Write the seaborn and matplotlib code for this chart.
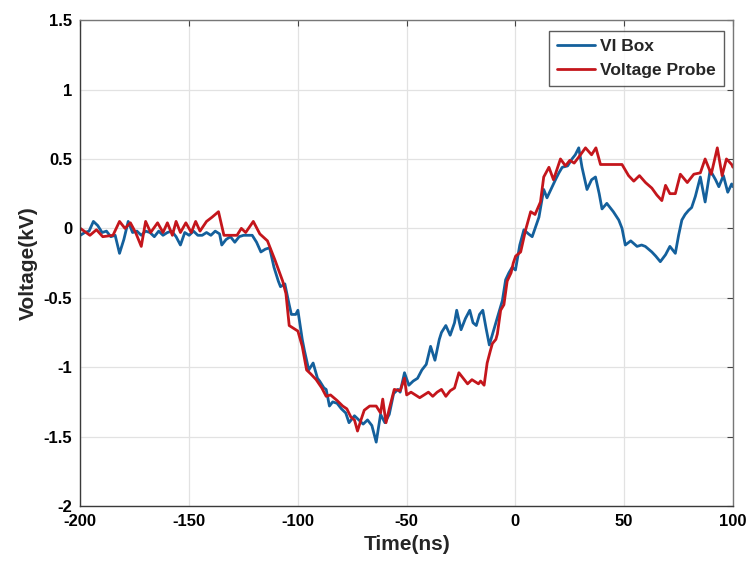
import matplotlib
matplotlib.use("Agg")
import matplotlib.pyplot as plt
import seaborn as sns
import pandas as pd

# VI Box measurement (time in ns, voltage in kV)
vi_t = [-200, -198, -196, -194, -192, -190, -188, -186, -184, -182, -180, -178, -176, -174,
        -172, -170, -168, -166, -164, -162, -160, -158, -156, -154, -152, -150, -148, -146,
        -144, -142, -140, -138, -136, -135, -133, -131, -129, -127, -125, -123, -121, -119,
        -117, -115, -113, -111, -109, -108, -106, -104, -103, -101, -100, -98, -97, -95, -93,
        -91, -90, -88, -87, -85.5, -84, -82, -80, -78, -76.5, -75, -74, -72, -70, -68, -66,
        -64, -62, -60, -58, -56, -54, -53, -51, -49, -47, -45, -43, -41, -39, -37, -35, -34,
        -32, -30, -28, -27, -25, -23, -21, -19.5, -18, -16.5, -15, -13.5, -12, -10.5, -9,
        -7.5, -6, -4.5, -3, -1.5, 0, 2, 3.9, 6, 7.7, 9.5, 10.8, 13, 14.5, 16, 18.4, 20, 21.5,
        24, 26, 27.5, 29.1, 30.6, 32.9, 35, 36.8, 38.5, 39.8, 42, 45, 47.5, 49, 50.5, 53,
        55.9, 58, 59.7, 62.7, 64.5, 66.6, 69, 71, 73.5, 75, 76.5, 78, 79.6, 81, 82.7, 85,
        87.2, 89.5, 92, 93.5, 95.6, 97.6, 99.4, 100]
vi_v = [-0.05, -0.03, -0.02, 0.05, 0.02, -0.03, -0.02, -0.06, -0.05, -0.18, -0.08, 0.05, -0.03,
        -0.02, -0.05, -0.02, -0.03, -0.06, -0.02, -0.05, -0.03, -0.02, -0.06, -0.12, -0.03,
        -0.05, -0.02, -0.05, -0.05, -0.03, -0.05, -0.02, -0.04, -0.12, -0.08, -0.06, -0.10,
        -0.06, -0.05, -0.05, -0.05, -0.10, -0.17, -0.15, -0.14, -0.28, -0.38, -0.42, -0.40,
        -0.55, -0.62, -0.62, -0.59, -0.80, -0.88, -1.02, -0.97, -1.08, -1.10, -1.15, -1.16,
        -1.28, -1.25, -1.26, -1.30, -1.33, -1.40, -1.37, -1.35, -1.38, -1.41, -1.38, -1.42,
        -1.54, -1.34, -1.40, -1.34, -1.19, -1.16, -1.18, -1.04, -1.13, -1.10, -1.08, -1.02,
        -0.98, -0.85, -0.95, -0.80, -0.75, -0.70, -0.77, -0.68, -0.59, -0.73, -0.65, -0.59,
        -0.68, -0.70, -0.62, -0.59, -0.72, -0.84, -0.76, -0.68, -0.60, -0.52, -0.37, -0.32,
        -0.28, -0.30, -0.12, -0.01, -0.04, -0.06, 0.02, 0.08, 0.28, 0.22, 0.27, 0.35, 0.40,
        0.44, 0.45, 0.50, 0.53, 0.58, 0.44, 0.28, 0.35, 0.37, 0.25, 0.14, 0.18, 0.12, 0.06,
        0.00, -0.12, -0.09, -0.13, -0.12, -0.13, -0.17, -0.20, -0.24, -0.19, -0.13, -0.18,
        -0.05, 0.06, 0.10, 0.13, 0.15, 0.23, 0.37, 0.19, 0.42, 0.35, 0.30, 0.38, 0.26, 0.32,
        0.30]

# Voltage probe measurement (time in ns, voltage in kV)
vp_t = [-200, -195.6, -192.6, -189.7, -185, -182, -179.5, -177, -174.6, -172, -170, -167.7,
        -164.5, -162, -160, -157.7, -156, -154, -151.5, -149, -147, -145, -142, -139.5,
        -136.5, -134, -131, -128, -126, -124, -120.5, -117.5, -114, -110.5, -107, -105.5,
        -104, -100, -98, -96, -94, -91.6, -89, -87, -85, -82, -79.4, -77.5, -75.6, -74,
        -72.6, -71, -69.5, -67, -64, -62, -61, -59.5, -58, -55.7, -53, -51, -50, -48, -46,
        -44, -42, -40, -38, -36, -34, -32, -30, -28, -26, -24, -22, -20, -19, -17, -16,
        -14.4, -13, -11.5, -10.6, -9, -8.3, -6.8, -5.3, -3.8, -2, -1, 0.1, 2.4, 4.7, 7, 9,
        11.5, 13, 15.4, 17.5, 20.7, 23, 25, 27, 29.9, 32.2, 35, 37, 39.1, 41, 45, 49, 52,
        54.4, 57, 59.8, 62.7, 65, 67.3, 69, 71, 73.5, 75.8, 79, 82, 85, 87.2, 90, 92.8, 95,
        97, 99.4, 100]
vp_v = [0.00, -0.05, -0.01, -0.06, -0.05, 0.05, 0.00, 0.04, -0.03, -0.13, 0.05, -0.03, 0.04,
        -0.03, 0.04, -0.05, 0.05, -0.03, 0.04, -0.03, 0.05, -0.02, 0.05, 0.08, 0.12, -0.05,
        -0.05, -0.05, 0.00, -0.03, 0.05, -0.04, -0.09, -0.23, -0.38, -0.47, -0.70, -0.74,
        -0.85, -1.02, -1.05, -1.09, -1.15, -1.21, -1.20, -1.24, -1.28, -1.30, -1.36, -1.38,
        -1.46, -1.38, -1.31, -1.28, -1.28, -1.33, -1.23, -1.40, -1.30, -1.16, -1.17, -1.08,
        -1.20, -1.18, -1.20, -1.22, -1.20, -1.18, -1.21, -1.18, -1.16, -1.21, -1.17, -1.15,
        -1.04, -1.08, -1.12, -1.09, -1.10, -1.12, -1.10, -1.13, -0.97, -0.88, -0.83, -0.80,
        -0.76, -0.59, -0.55, -0.38, -0.32, -0.25, -0.20, -0.17, -0.01, 0.12, 0.10, 0.19,
        0.37, 0.44, 0.35, 0.50, 0.45, 0.49, 0.47, 0.53, 0.58, 0.53, 0.58, 0.46, 0.46, 0.46,
        0.46, 0.38, 0.34, 0.38, 0.33, 0.29, 0.24, 0.20, 0.31, 0.25, 0.25, 0.39, 0.33, 0.39,
        0.40, 0.50, 0.39, 0.58, 0.38, 0.50, 0.46, 0.44]

series_names = ["VI Box", "Voltage Probe"]
series_colors = ["#14609c", "#c4161c"]
x_ticks = [-200, -150, -100, -50, 0, 50, 100]
y_ticks = [-2, -1.5, -1, -0.5, 0, 0.5, 1, 1.5]
y_tick_labels = ["-2", "-1.5", "-1", "-0.5", "0", "0.5", "1", "1.5"]

df = pd.concat([
    pd.DataFrame({"Time": vi_t, "Voltage": vi_v, "Signal": series_names[0]}),
    pd.DataFrame({"Time": vp_t, "Voltage": vp_v, "Signal": series_names[1]}),
], ignore_index=True)

sns.set_style("whitegrid")
plt.rcParams["font.family"] = ["Liberation Sans Narrow", "Liberation Sans", "DejaVu Sans"]
plt.rcParams["font.weight"] = "bold"
plt.rcParams["axes.unicode_minus"] = False

fig = plt.figure(figsize=(7.51, 5.75), dpi=100)
ax = fig.add_axes([0.107, 0.12, 0.869, 0.845])

sns.lineplot(data=df, x="Time", y="Voltage", hue="Signal", palette=series_colors,
             hue_order=series_names, sort=False, estimator=None, linewidth=2.0, ax=ax)

ax.set_xlim(-200, 100)
ax.set_ylim(-2, 1.5)
ax.set_xticks(x_ticks)
ax.set_yticks(y_ticks)
ax.set_yticklabels(y_tick_labels)
ax.grid(True, color="#e2e2e2", linewidth=0.9)
ax.tick_params(direction="in", length=4, width=0.8, colors="#444444",
               top=True, right=True, labelsize=12, labelcolor="black", pad=6)
for lab in ax.get_xticklabels() + ax.get_yticklabels():
    lab.set_fontweight("bold")
for side in ["left", "bottom", "top", "right"]:
    ax.spines[side].set_visible(True)
    ax.spines[side].set_color("#3a3a3a")
    ax.spines[side].set_linewidth(1.0)
ax.spines["top"].set_color("#777777")
ax.spines["right"].set_color("#777777")

ax.set_xlabel("Time(ns)", fontsize=15, fontweight="bold", labelpad=4)
ax.set_ylabel("Voltage(kV)", fontsize=15, fontweight="bold", labelpad=4)

leg = ax.legend(loc="upper right", bbox_to_anchor=(0.986, 0.978), fontsize=12.5,
                frameon=True, fancybox=False, borderpad=0.45, labelspacing=0.55,
                handlelength=2.2, handletextpad=0.3, borderaxespad=0.0)
leg.get_frame().set_edgecolor("#333333")
leg.get_frame().set_linewidth(1.0)
for txt in leg.get_texts():
    txt.set_fontweight("bold")

# Heading sits above the top edge of the canvas; only its descenders reach in
fig.text(0.55, 1.009, "Voltage Waveform Comparison", ha="center", va="baseline",
         fontsize=15, fontweight="bold", color="#444444")

fig.savefig("out.png", dpi=100)
